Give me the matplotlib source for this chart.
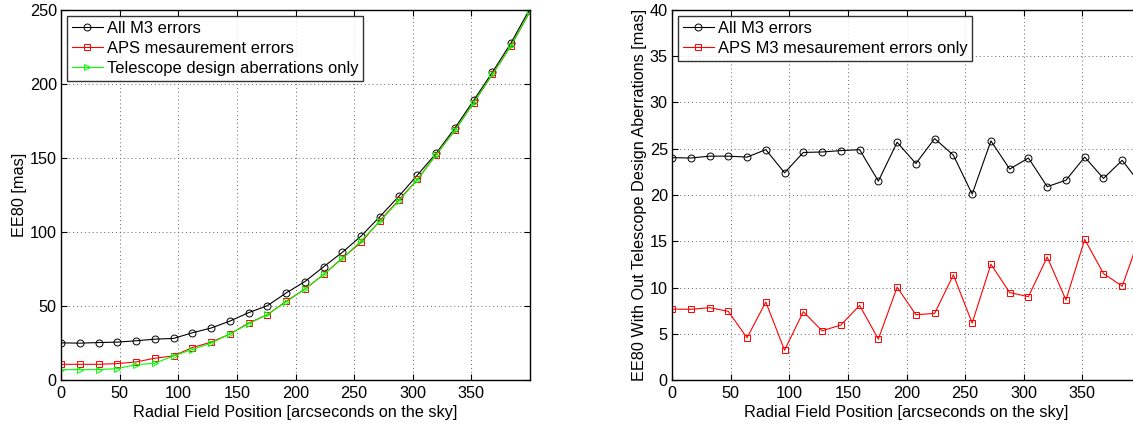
import matplotlib
matplotlib.use("Agg")
import matplotlib.pyplot as plt

plt.rcParams['font.family'] = ['Liberation Sans', 'DejaVu Sans']

# ---- data ----
radial_pos = [0, 16, 32, 48, 64, 80, 96, 112, 128, 144, 160, 176, 192,
              208, 224, 240, 256, 272, 288, 304, 320, 336, 352, 368, 384, 400]

ee80_all = [25.1, 24.9, 25.3, 25.6, 26.5, 27.6, 28.1, 31.9, 35.1, 39.8, 45.5, 50.2, 58.8,
            66.5, 76.5, 86.3, 97.3, 110.4, 124.0, 138.5, 153.2, 170.3, 189.0, 208.0, 228.0, 251.0]
ee80_aps = [10.6, 10.6, 10.6, 11.1, 12.2, 14.7, 16.3, 21.9, 25.6, 31.0, 38.5, 44.1, 53.2,
            61.4, 71.3, 82.4, 93.0, 107.7, 121.5, 135.5, 152.3, 168.8, 187.4, 206.6, 226.0, 249.0]
ee80_design = [7.0, 7.0, 7.0, 7.7, 10.4, 11.3, 16.3, 20.6, 24.9, 31.2, 38.0, 44.3, 52.7,
               61.5, 71.3, 82.1, 94.1, 107.2, 121.0, 135.3, 152.3, 168.8, 187.4, 206.6, 226.0, 249.0]

resid_all = [24.04, 24.0, 24.2, 24.2, 24.1, 24.9, 22.4, 24.6, 24.65, 24.8, 24.9, 21.5, 25.7,
             23.4, 26.1, 24.3, 20.1, 25.85, 22.8, 24.0, 20.9, 21.6, 24.1, 21.8, 23.75, 21.1]
resid_aps = [7.67, 7.64, 7.82, 7.42, 4.56, 8.43, 3.22, 7.38, 5.32, 5.94, 8.07, 4.42, 10.03,
             7.06, 7.2, 11.37, 6.15, 12.52, 9.45, 9.01, 13.29, 8.65, 15.2, 11.51, 10.14, 15.9]

labels_left = ['All M3 errors', 'APS mesaurement errors', 'Telescope design aberrations only']
labels_right = ['All M3 errors', 'APS M3 mesaurement errors only']
xlabel = 'Radial Field Position [arcseconds on the sky]'

FS = 11.7
LFS = 11.9
W, H = 1133, 423
fig = plt.figure(figsize=(W / 100, H / 100), dpi=100)

ax1 = fig.add_axes([61 / W, (H - 380) / H, 469 / W, 370 / H])
ax2 = fig.add_axes([672 / W, (H - 380) / H, 469 / W, 370 / H])

lw = 0.8
ms = 5
mew = 0.7
ax1.plot(radial_pos, ee80_all, color='black', marker='o', mfc='none', ms=ms, mew=mew, lw=lw,
         label=labels_left[0])
ax1.plot(radial_pos, ee80_aps, color='#ff0000', marker='s', mfc='none', ms=ms - 0.8, mew=mew, lw=lw,
         label=labels_left[1])
ax1.plot(radial_pos, ee80_design, color='#00ff00', marker='>', mfc='none', ms=ms, mew=mew, lw=lw,
         label=labels_left[2])

ax2.plot(radial_pos, resid_all, color='black', marker='o', mfc='none', ms=ms, mew=mew, lw=lw,
         label=labels_right[0])
ax2.plot(radial_pos, resid_aps, color='#ff0000', marker='s', mfc='none', ms=ms - 0.8, mew=mew, lw=lw,
         label=labels_right[1])

ax1.set_xlim(0, 400)
ax1.set_ylim(0, 250)
ax1.set_xticks([0, 50, 100, 150, 200, 250, 300, 350])
ax1.set_yticks([0, 50, 100, 150, 200, 250])
ax1.set_ylabel('EE80 [mas]', fontsize=FS, labelpad=2)

ax2.set_xlim(0, 400)
ax2.set_ylim(0, 40)
ax2.set_xticks([0, 50, 100, 150, 200, 250, 300, 350])
ax2.set_yticks([0, 5, 10, 15, 20, 25, 30, 35, 40])
ax2.set_ylabel('EE80 With Out Telescope Design Aberrations [mas]', fontsize=FS, labelpad=2)

for ax in (ax1, ax2):
    ax.set_xlabel(xlabel, fontsize=FS, labelpad=3)
    ax.grid(True, linestyle=(0, (1, 3)), color='#666666', linewidth=0.7)
    ax.tick_params(direction='in', top=True, right=True, length=4, width=0.8,
                   labelsize=FS)
    ax.tick_params(axis='x', pad=4.5)
    ax.tick_params(axis='y', pad=3)
    for sp in ax.spines.values():
        sp.set_linewidth(1.0)
        sp.set_color('black')
    leg = ax.legend(loc='upper left', fontsize=LFS, frameon=True, fancybox=False,
                    borderaxespad=0.35, handlelength=1.9, handletextpad=0.22,
                    labelspacing=0.3, borderpad=0.3)
    leg.get_frame().set_edgecolor('black')
    leg.get_frame().set_linewidth(1.0)

fig.savefig('out.png', dpi=100)
